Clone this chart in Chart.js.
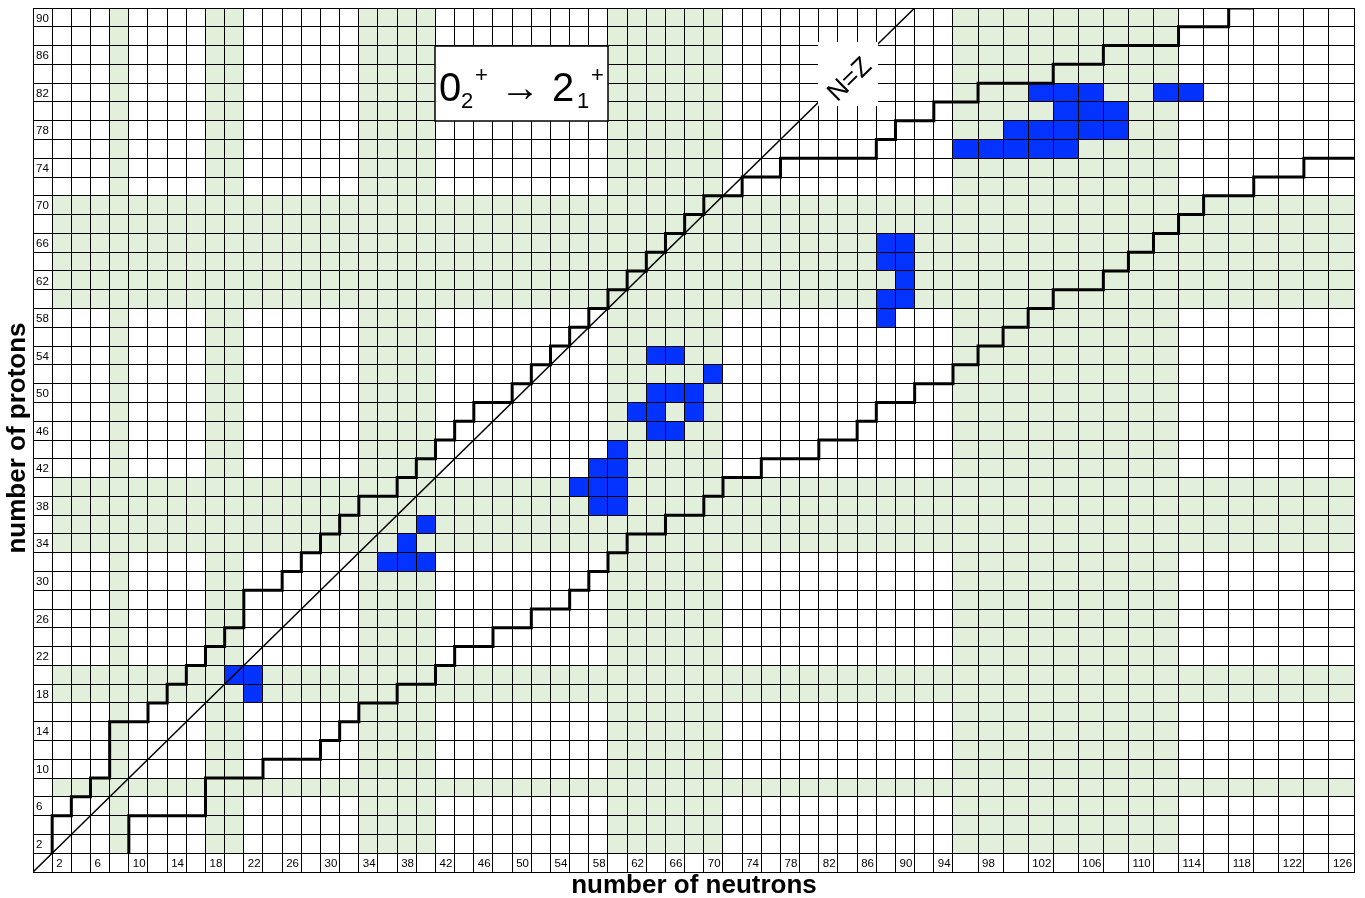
<!DOCTYPE html>
<html>
<head>
<meta charset="utf-8">
<script src="https://cdn.jsdelivr.net/npm/chart.js@4.4.0/dist/chart.umd.min.js"></script>
<style>
    html, body { margin: 0; padding: 0; background: #fff; }
</style>
</head>
<body>
<canvas id="chart" width="1365" height="898"></canvas>
<script>
// Labels written in the first row / first column of the grid
const neutronTicks = [2, 6, 10, 14, 18, 22, 26, 30, 34, 38, 42, 46, 50, 54, 58, 62, 66, 70, 74, 78, 82, 86, 90, 94, 98, 102, 106, 110, 114, 118, 122, 126];
const protonTicks = [2, 6, 10, 14, 18, 22, 26, 30, 34, 38, 42, 46, 50, 54, 58, 62, 66, 70, 74, 78, 82, 86, 90];

// Shaded (green) neutron columns and proton rows
const shadedNeutrons = [8, 18, 20, 34, 36, 38, 40, 60, 62, 64, 66, 68, 70, 96, 98, 100, 102, 104, 106, 108, 110, 112];
const shadedProtons = [8, 18, 20, 34, 36, 38, 40, 60, 62, 64, 66, 68, 70];

// Blue cells (N, Z)
const blueN = [20, 22, 22,
    40, 38, 36, 38, 40,
    64, 66, 70, 64, 66, 68, 62, 64, 68, 64, 66, 60, 58, 60, 56, 58, 60, 58, 60,
    88, 90, 88, 90, 90, 88, 90, 88,
    102, 104, 106, 112, 114, 104, 106, 108, 100, 102, 104, 106, 108, 96, 98, 100, 102, 104];
const blueZ = [20, 20, 18,
    36, 34, 32, 32, 32,
    54, 54, 52, 50, 50, 50, 48, 48, 48, 46, 46, 44, 42, 42, 40, 40, 40, 38, 38,
    66, 66, 64, 64, 62, 60, 60, 58,
    82, 82, 82, 82, 82, 80, 80, 80, 78, 78, 78, 78, 78, 76, 76, 76, 76, 76];

// Staircase limits, corners lie on cell edges (odd N / Z)
const upperN = [1, 1, 3, 3, 5, 5, 7, 7, 11, 11, 13, 13, 15, 15, 17, 17, 19, 19, 21, 21, 25, 25, 27, 27, 29, 29, 31, 31, 33, 33, 37, 37, 39, 39, 41, 41, 43, 43, 45, 45, 49, 49, 51, 51, 53, 53, 55, 55, 57, 57, 59, 59, 61, 61, 63, 63, 65, 65, 67, 67, 69, 69, 73, 73, 77, 77, 87, 87, 89, 89, 93, 93, 97, 97, 103, 103, 107, 107, 113, 113, 117, 117, 119];
const upperZ = [1, 5, 5, 7, 7, 9, 9, 15, 15, 17, 17, 19, 19, 21, 21, 23, 23, 25, 25, 29, 29, 31, 31, 33, 33, 35, 35, 37, 37, 39, 39, 41, 41, 43, 43, 45, 45, 47, 47, 49, 49, 51, 51, 53, 53, 55, 55, 57, 57, 59, 59, 61, 61, 63, 63, 65, 65, 67, 67, 69, 69, 71, 71, 73, 73, 75, 75, 77, 77, 79, 79, 81, 81, 83, 83, 85, 85, 87, 87, 89, 89, 91, 91];
const lowerN = [9, 9, 17, 17, 23, 23, 29, 29, 31, 31, 33, 33, 37, 37, 41, 41, 43, 43, 47, 47, 51, 51, 55, 55, 57, 57, 59, 59, 61, 61, 65, 65, 69, 69, 71, 71, 75, 75, 81, 81, 85, 85, 87, 87, 91, 91, 95, 95, 97, 97, 99, 99, 101, 101, 103, 103, 107, 107, 109, 109, 111, 111, 113, 113, 115, 115, 119, 119, 123, 123, 127];
const lowerZ = [1, 5, 5, 9, 9, 11, 11, 13, 13, 15, 15, 17, 17, 19, 19, 21, 21, 23, 23, 25, 25, 27, 27, 29, 29, 31, 31, 33, 33, 35, 35, 37, 37, 39, 39, 41, 41, 43, 43, 45, 45, 47, 47, 49, 49, 51, 51, 53, 53, 55, 55, 57, 57, 59, 59, 61, 61, 63, 63, 65, 65, 67, 67, 69, 69, 71, 71, 73, 73, 75, 75];

// N = Z line, corner to corner
const diagonalN = [-1, 91];
const diagonalZ = [-1, 91];

const GREEN = '#e2efda';
const BLUE = '#0433ff';

// columns from N = 96 on are drawn wider than the others
const WIDE_FROM = 95;
const WIDE_RATIO = 1.3077;
function xv(n) {
    return n <= WIDE_FROM ? n : WIDE_FROM + (n - WIDE_FROM) * WIDE_RATIO;
}

function cell(n0, n1, z0, z1) {
    return [
        { x: xv(n0), y: z0 }, { x: xv(n1), y: z0 },
        { x: xv(n1), y: z1 }, { x: xv(n0), y: z1 }, { x: xv(n0), y: z0 }
    ];
}

function area(points, color, order) {
    return {
        data: points,
        backgroundColor: color,
        borderWidth: 0,
        borderColor: color,
        pointRadius: 0,
        fill: 'shape',
        order: order
    };
}

function path(ns, zs, width, order) {
    return {
        data: ns.map((n, i) => ({ x: xv(n), y: zs[i] })),
        borderColor: '#000',
        borderWidth: width,
        pointRadius: 0,
        fill: false,
        borderJoinStyle: 'miter',
        order: order
    };
}

const datasets = [];
shadedNeutrons.forEach((n) => datasets.push(area(cell(n - 1, n + 1, 1, 91), GREEN, 5)));
shadedProtons.forEach((z) => datasets.push(area(cell(1, 127, z - 1, z + 1), GREEN, 5)));
blueN.forEach((n, i) => datasets.push(area(cell(n - 1, n + 1, blueZ[i] - 1, blueZ[i] + 1), BLUE, 4)));
datasets.push(path(diagonalN, diagonalZ, 1.5, 2));
datasets.push(path(upperN, upperZ, 3, 1));
datasets.push(path(lowerN, lowerZ, 3, 1));

const xEdges = [];
for (let n = -1; n <= 127; n += 2) xEdges.push(n);
const zEdges = [];
for (let z = -1; z <= 91; z += 2) zEdges.push(z);

const FONT = '"Liberation Sans", Arial, sans-serif';

// texts written into the grid, boxes and axis titles
const overlay = {
    id: 'overlay',
    afterDraw(chart) {
        const ctx = chart.ctx;
        const xs = chart.scales.x;
        const ys = chart.scales.y;
        ctx.save();
        ctx.fillStyle = '#000';
        ctx.textBaseline = 'middle';
        ctx.textAlign = 'left';
        ctx.font = '11.5px ' + FONT;
        neutronTicks.forEach((n) => {
            ctx.fillText(String(n), xs.getPixelForValue(xv(n - 1)) + 4, ys.getPixelForValue(0) + 1);
        });
        protonTicks.forEach((z) => {
            ctx.fillText(String(z), xs.getPixelForValue(xv(-1)) + 3, ys.getPixelForValue(z) + 1);
        });

        // transition box
        ctx.fillStyle = '#fff';
        ctx.fillRect(435, 46, 173, 75);
        ctx.strokeStyle = '#000';
        ctx.lineWidth = 1.5;
        ctx.strokeRect(435, 46, 173, 75);
        ctx.fillStyle = '#000';
        ctx.textBaseline = 'alphabetic';
        ctx.font = '40px ' + FONT;
        ctx.fillText('0', 439, 101);
        ctx.fillText('\u2192', 500, 101);
        ctx.fillText('2', 552, 101);
        ctx.font = '22px ' + FONT;
        ctx.fillText('2', 461, 108);
        ctx.fillText('+', 475, 82);
        ctx.fillText('1', 577, 108);
        ctx.fillText('+', 591, 82);

        // N=Z label on the diagonal
        const p0 = { x: xs.getPixelForValue(xv(-1)), y: ys.getPixelForValue(-1) };
        const p1 = { x: xs.getPixelForValue(xv(91)), y: ys.getPixelForValue(91) };
        const ang = Math.atan2(p1.y - p0.y, p1.x - p0.x);
        ctx.fillStyle = '#fff';
        ctx.fillRect(818, 42, 60, 64);
        ctx.translate(850, 80);
        ctx.rotate(ang);
        ctx.fillStyle = '#000';
        ctx.textAlign = 'center';
        ctx.textBaseline = 'middle';
        ctx.font = '26px ' + FONT;
        ctx.fillText('N=Z', 0, 0);
        ctx.restore();

        // axis titles
        ctx.save();
        ctx.fillStyle = '#000';
        ctx.font = 'bold 26px ' + FONT;
        ctx.textAlign = 'center';
        ctx.textBaseline = 'alphabetic';
        ctx.fillText('number of neutrons', 694, 893);
        ctx.translate(25, 438);
        ctx.rotate(-Math.PI / 2);
        ctx.fillText('number of protons', 0, 0);
        ctx.restore();
    }
};

new Chart(document.getElementById('chart').getContext('2d'), {
    type: 'line',
    data: { datasets: datasets },
    options: {
        responsive: false,
        animation: false,
        events: [],
        layout: { padding: { left: 33, top: 8, right: 11, bottom: 26 } },
        plugins: {
            legend: { display: false },
            tooltip: { enabled: false }
        },
        scales: {
            x: {
                type: 'linear',
                min: xv(-1),
                max: xv(127),
                afterBuildTicks: (scale) => { scale.ticks = xEdges.map((n) => ({ value: xv(n) })); },
                ticks: { display: false, autoSkip: false },
                grid: { color: '#000', lineWidth: 1, drawTicks: false, z: 1 },
                border: { color: '#000', width: 1, z: 1 }
            },
            y: {
                type: 'linear',
                min: -1,
                max: 91,
                afterBuildTicks: (scale) => { scale.ticks = zEdges.map((z) => ({ value: z })); },
                ticks: { display: false, autoSkip: false },
                grid: { color: '#000', lineWidth: 1, drawTicks: false, z: 1 },
                border: { color: '#000', width: 1, z: 1 }
            }
        }
    },
    plugins: [overlay]
});
</script>
</body>
</html>
